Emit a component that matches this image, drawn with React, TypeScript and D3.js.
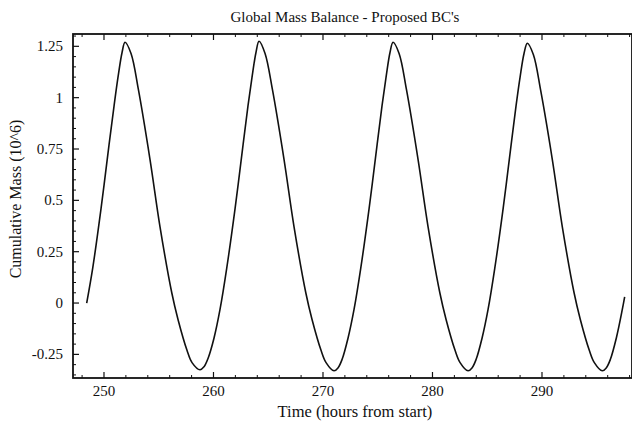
import React from "react";
import * as d3 from "d3";

const timeHours = [
  248.42, 248.97, 249.73, 250.46, 250.92, 251.28, 251.65, 251.92,
  252.47, 253.14, 254.2, 255.12, 256.19, 256.76, 257.58, 258.04, 258.77,
  259.14, 259.5, 260.05, 260.6, 261.21, 261.97, 262.7, 263.15, 263.52, 263.88, 264.16,
  264.71, 265.38, 266.44, 267.36, 268.43, 269.0, 269.82, 270.28, 271.01,
  271.38, 271.74, 272.29, 272.84, 273.45, 274.21, 274.94, 275.39, 275.76, 276.12, 276.4,
  276.95, 277.62, 278.68, 279.6, 280.67, 281.24, 282.06, 282.52, 283.25,
  283.62, 283.98, 284.53, 285.08, 285.69, 286.45, 287.18, 287.63, 288.0, 288.36, 288.66,
  289.21, 289.88, 290.94, 291.86, 292.93, 293.5, 294.32, 294.78, 295.51,
  295.88, 296.24, 296.79, 297.34, 297.55,
];
const massValues = [
  0.0, 0.17, 0.46, 0.77, 0.96, 1.1, 1.22, 1.27,
  1.215, 1.04, 0.7, 0.37, 0.05, -0.08, -0.23, -0.29, -0.325,
  -0.31, -0.27, -0.17, -0.03, 0.17, 0.46, 0.77, 0.96, 1.1, 1.22, 1.275,
  1.215, 1.04, 0.7, 0.37, 0.05, -0.08, -0.23, -0.29, -0.33,
  -0.315, -0.275, -0.17, -0.03, 0.17, 0.46, 0.77, 0.96, 1.1, 1.22, 1.27,
  1.215, 1.04, 0.7, 0.37, 0.05, -0.08, -0.23, -0.29, -0.33,
  -0.315, -0.275, -0.17, -0.03, 0.17, 0.46, 0.77, 0.96, 1.1, 1.215, 1.265,
  1.21, 1.035, 0.7, 0.37, 0.05, -0.08, -0.23, -0.29, -0.33,
  -0.315, -0.275, -0.17, -0.03, 0.03,
];
const xTicks = [250, 260, 270, 280, 290];
const yTicks = [-0.25, 0, 0.25, 0.5, 0.75, 1, 1.25];
const yTickLabels = ["-0.25", "0", "0.25", "0.5", "0.75", "1", "1.25"];
const titleText = "Global Mass Balance - Proposed BC's";
const xLabel = "Time (hours from start)";
const yLabel = "Cumulative Mass (10^6)";

const W = 632;
const H = 426;
const L = 73;
const R = 632;
const T = 34;
const B = 378;
const FONT = "'Liberation Serif', 'DejaVu Serif', serif";

export default function App() {
  const x = d3.scaleLinear().domain([247.17, 298.22]).range([L, R]);
  const y = d3.scaleLinear().domain([-0.365, 1.31]).range([B, T]);
  const pts = timeHours.map((t, i) => [t, massValues[i]] as [number, number]);
  const line = d3
    .line<[number, number]>()
    .x((d) => x(d[0]))
    .y((d) => y(d[1]))
    .curve(d3.curveCatmullRom.alpha(0.5));

  const xMinor = d3.range(248, 299, 2).filter((v) => v % 10 !== 0);
  const yMinor = d3
    .range(-0.35, 1.31, 0.05)
    .map((v) => Math.round(v * 100) / 100)
    .filter((v) => Math.abs(v * 4 - Math.round(v * 4)) > 1e-6);

  return (
    <svg
      width={W}
      height={H}
      style={{ position: "absolute", left: 0, top: 0, background: "#fff" }}
    >
      <rect x={0} y={0} width={W} height={H} fill="#fff" />
      <text x={345} y={22} textAnchor="middle" fontFamily={FONT} fontSize={15} fill="#111">
        {titleText}
      </text>
      <rect x={L} y={T} width={R - L} height={B - T} fill="none" stroke="#111" strokeWidth={1.8} />
      {xTicks.map((t) => (
        <g key={"xt" + t}>
          <line x1={x(t)} x2={x(t)} y1={B} y2={B - 6} stroke="#111" strokeWidth={1.2} />
          <line x1={x(t)} x2={x(t)} y1={T} y2={T + 6} stroke="#111" strokeWidth={1.2} />
          <text x={x(t)} y={B + 18} textAnchor="middle" fontFamily={FONT} fontSize={15} fill="#111">
            {t}
          </text>
        </g>
      ))}
      {xMinor.map((t) => (
        <g key={"xm" + t}>
          <line x1={x(t)} x2={x(t)} y1={B} y2={B - 3} stroke="#111" strokeWidth={1} />
          <line x1={x(t)} x2={x(t)} y1={T} y2={T + 3} stroke="#111" strokeWidth={1} />
        </g>
      ))}
      {yTicks.map((v, i) => (
        <g key={"yt" + v}>
          <line x1={L} x2={L + 6} y1={y(v)} y2={y(v)} stroke="#111" strokeWidth={1.2} />
          <text x={L - 10} y={y(v) + 5} textAnchor="end" fontFamily={FONT} fontSize={15} fill="#111">
            {yTickLabels[i]}
          </text>
        </g>
      ))}
      {yMinor.map((v) => (
        <line key={"ym" + v} x1={L} x2={L + 3} y1={y(v)} y2={y(v)} stroke="#111" strokeWidth={1} />
      ))}
      <path d={line(pts) || ""} fill="none" stroke="#111" strokeWidth={1.6} />
      <text x={355} y={417} textAnchor="middle" fontFamily={FONT} fontSize={16.5} fill="#111">
        {xLabel}
      </text>
      <text
        transform={`translate(21,${199}) rotate(-90)`}
        textAnchor="middle"
        fontFamily={FONT}
        fontSize={16}
        fill="#111"
      >
        {yLabel}
      </text>
    </svg>
  );
}
